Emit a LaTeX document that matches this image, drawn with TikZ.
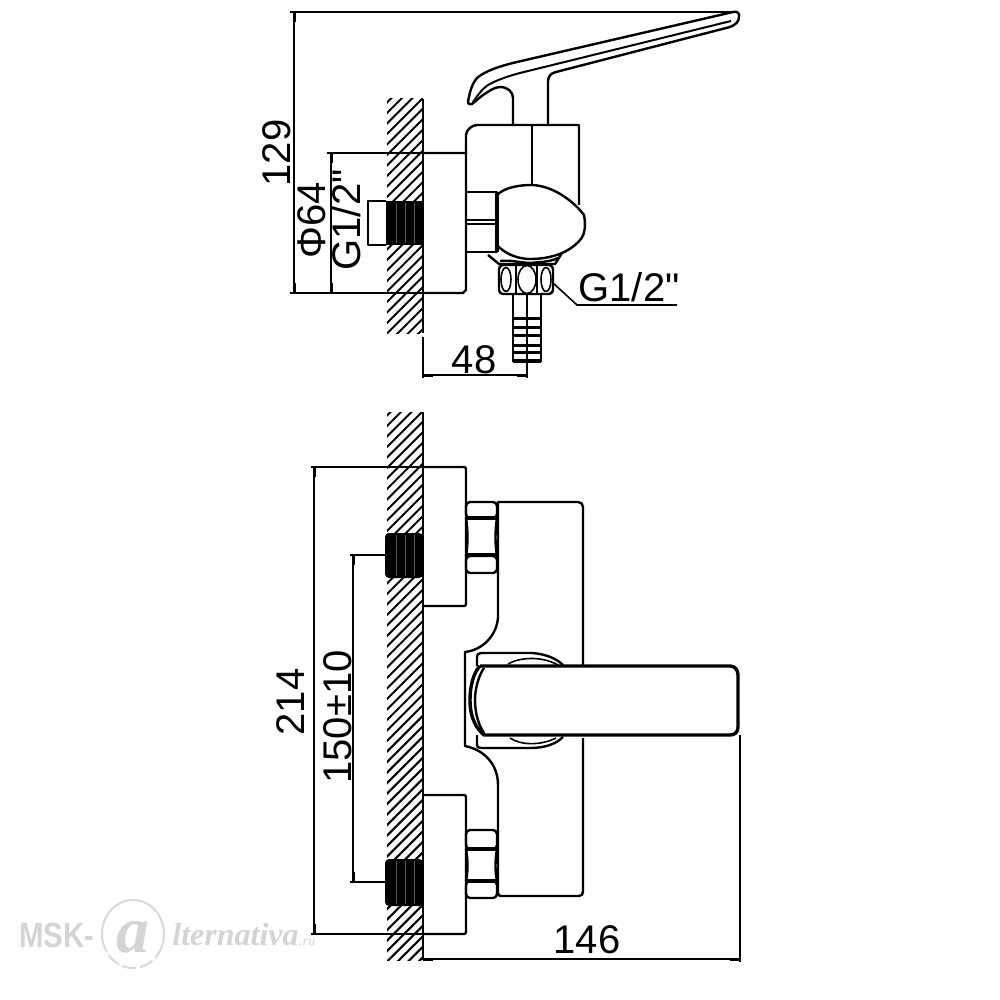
\documentclass[tikz,border=0pt]{standalone}
\usepackage{fontspec}
\setmainfont{Liberation Sans}
\newfontfamily\dimfont{Liberation Sans}
\newfontfamily\wmserif{Liberation Serif}
\begin{document}
\begin{tikzpicture}[x=0.5pt,y=-0.5pt,
  part/.style={line width=1.2pt,line join=round,black},
  thin part/.style={line width=0.8pt,line join=round,black},
  dim/.style={line width=0.8pt,black},
  hatchline/.style={line width=1.05pt,black},
  dimtext/.style={font=\dimfont\fontsize{20}{20}\selectfont,inner sep=0pt,text=black},
  wm/.style={inner sep=0pt,text=black!17}]
\useasboundingbox (0,0) rectangle (1000,1000);
\fill[white] (0,0) rectangle (1000,1000);
% wall hatching
\begin{scope}
\clip (387,99) rectangle (423,333);
\foreach \k in {0,10.5,...,280} \draw[hatchline] (380,99+\k) -- (430,99+\k-50);
\end{scope}
\begin{scope}
\clip (387,412) rectangle (423,960);
\foreach \k in {0,10.5,...,600} \draw[hatchline] (380,412+\k) -- (430,412+\k-50);
\end{scope}
\draw[part] (423,99) -- (423,333);
\draw[part] (423,412) -- (423,960);
% threads
\fill[black] (386,201) rectangle (423,245);
\fill[black,rounded corners=2pt] (385,533) rectangle (423,578);
\fill[black,rounded corners=2pt] (385,859) rectangle (423,906);
\foreach \x in {396,405,414}{
  \draw[black!65,line width=0.3pt] (\x,203) -- (\x,243);
  \draw[black!65,line width=0.3pt] (\x,535) -- (\x,576);
  \draw[black!65,line width=0.3pt] (\x,861) -- (\x,904);
}
% TOP VIEW
\draw[part] (386,201) -- (368,201) -- (368,245) -- (386,245);
\draw[part] (466,153) -- (423,153) (423,293) -- (463,293) -- (466,290) -- (466,255);
\draw[part] (466,255) -- (466,135) .. controls (466,130) and (472,125) .. (477,125) -- (579,125) -- (579,205);
\draw[part] (532,125) -- (532,185);
% nut
\draw[part] (466,192) -- (497,192) -- (497,252) -- (466,252);
\draw[part] (466,220) -- (497,220) (466,224) -- (497,224);
\draw[line width=1.7pt] (497,192) -- (497,252);
% dome
\draw[part] (497,195) .. controls (505,187) and (520,185) .. (532,185)
  .. controls (555,186) and (575,203) .. (584,215)
  .. controls (586,225) and (585,235) .. (580,240)
  .. controls (570,252) and (552,259) .. (530,259)
  .. controls (518,259) and (505,254) .. (497,245);
% collar
\draw[part] (488,255) -- (499,264) -- (555,264) -- (562,253);
\draw[part] (500,261) .. controls (512,260) and (515,262) .. (530,263) .. controls (540,262) and (550,262) .. (558,258);
% lower nut
\draw[part,rounded corners=2pt] (499,265) rectangle (553,294);
\draw[thin part] (516,265) -- (516,294) (537,265) -- (537,294);
\draw[thin part] (506,279.5) ellipse [x radius=5,y radius=12];
\draw[thin part] (527,279.5) ellipse [x radius=9,y radius=14];
\draw[thin part] (546,279.5) ellipse [x radius=5,y radius=12];
% stem
\draw[part] (513,294) -- (513,362) (541,294) -- (541,362) (527,294) -- (527,362);
\foreach \y in {318,327,335,345,352} \draw[line width=1.5pt] (513,\y) -- (541,\y);
\draw[line width=2pt] (513,361) -- (541,361);
% handle
\draw[part] (513,125) -- (513,98) .. controls (513,92) and (508,87) .. (500,87)
  .. controls (494,87) and (488,92) .. (483,95) -- (472,104) .. controls (469,105) and (467,103) .. (468,101)
  .. controls (470,93) and (471,85) .. (477,78) .. controls (485,71) and (500,66) .. (517,62)
  -- (733,12) .. controls (737,11) and (740,13) .. (739,17) .. controls (739,22) and (735,25) .. (730,27)
  -- (556,72) .. controls (551,73) and (548,76) .. (548,82) -- (548,125);
\draw[thin part,line width=1pt] (473,102) .. controls (478,95) and (482,89) .. (488,85)
  .. controls (495,81) and (505,77) .. (520,73) -- (731,21);
% TOP VIEW dimensions
\draw[dim] (290,12) -- (735,12);
\draw[dim] (294,12) -- (294,293);
\draw[dim] (331,153) -- (331,293);
\draw[dim] (327,153) -- (423,153);
\draw[dim] (290,293) -- (423,293);
\draw[line width=1.5pt] (294,12) -- (294,22) (294,283) -- (294,293) (331,153) -- (331,163) (331,283) -- (331,293);
\draw[dim] (423,337) -- (423,378) (527,362) -- (527,378);
\draw[dim] (423,375) -- (527,375);
\draw[line width=1.5pt] (423,375) -- (433,375) (517,375) -- (527,375);
\draw[dim] (553,283) -- (577,305) -- (677,305);
% FRONT VIEW flanges
\draw[part,rounded corners=1pt] (423,467) -- (466,467) -- (466,606) -- (423,606);
\draw[part,rounded corners=1pt] (423,795) -- (466,795) -- (466,934) -- (423,934);
% upper nut
\draw[part,rounded corners=2pt] (466,502) rectangle (497,518);
\draw[part,rounded corners=2pt] (466,556) rectangle (497,573);
\draw[part] (466,518) .. controls (468,530) and (468,545) .. (466,556) (497,518) .. controls (495,530) and (495,545) .. (497,556);
\draw[line width=1.7pt] (466,518) -- (497,518) (466,555) -- (497,555);
% lower nut
\draw[part,rounded corners=2pt] (466,830) rectangle (497,849);
\draw[part,rounded corners=2pt] (466,881) rectangle (497,898);
\draw[part] (466,849) .. controls (468,860) and (468,872) .. (466,881) (497,849) .. controls (495,860) and (495,872) .. (497,881);
\draw[line width=1.7pt] (466,849) -- (497,849) (466,881) -- (497,881);
% body
\draw[part] (583,665) -- (583,507) .. controls (583,504) and (581,502) .. (578,502) -- (498,502)
  -- (498,617) .. controls (497,635) and (483,650) .. (465,652) -- (465,746)
  .. controls (485,750) and (498,765) .. (498,785) -- (498,893)
  .. controls (498,895) and (499,896) .. (501,896) -- (579,896) .. controls (582,896) and (583,894) .. (583,891) -- (583,738);
% collars
\draw[part] (477,666) -- (477,657) .. controls (477,655) and (478,653) .. (481,653) -- (532,653)
  .. controls (545,654) and (556,658) .. (563,665);
\draw[part] (477,735) -- (477,745) .. controls (477,747) and (478,748) .. (481,748) -- (530,748)
  .. controls (545,748) and (556,744) .. (563,737);
\draw[thin part] (508,664) .. controls (518,658) and (540,655) .. (558,665);
\draw[thin part] (510,738) .. controls (520,745) and (540,746) .. (556,738);
% handle
\draw[line width=1.7pt,line join=round] (480,666) -- (730,666) .. controls (735,666) and (738,670) .. (738,675)
  -- (738,727) .. controls (738,732) and (735,735) .. (730,735) -- (484,735)
  .. controls (478,730) and (470,720) .. (470,700) .. controls (470,685) and (474,672) .. (480,666);
\draw[part] (484,668) .. controls (479,675) and (475,688) .. (475,700) .. controls (475,714) and (479,726) .. (484,733);
% FRONT VIEW dimensions
\draw[dim] (311,467) -- (423,467);
\draw[dim] (311,934) -- (423,934);
\draw[dim] (314,467) -- (314,934);
\draw[line width=1.5pt] (314,467) -- (314,477) (314,924) -- (314,934);
\draw[dim] (350,555) -- (385,555);
\draw[dim] (350,882) -- (385,882);
\draw[dim] (353,555) -- (353,882);
\draw[line width=1.5pt] (353,555) -- (353,565) (353,872) -- (353,882);
\draw[dim] (423,959) -- (740,959);
\draw[dim] (740,735) -- (740,962);
\draw[line width=1.5pt] (423,959) -- (433,959) (730,959) -- (740,959);
% texts
\node[dimtext,rotate=90] (t129) at (277,153) {129};
\node[dimtext,rotate=90] (tphi) at (312,220) {Φ64};
\node[dimtext,rotate=90] (tgv) at (346,220) {G1/2"};
\node[dimtext] (tgh) at (629,287) {G1/2"};
\node[dimtext] (t48) at (474,360) {48};
\node[dimtext,rotate=90] (t214) at (291,702) {214};
\node[dimtext,rotate=90] (t150) at (338,717) {150±10};
\node[dimtext] (t146) at (587,940) {146};
% watermark
\node[wm,xscale=0.84,font=\fontsize{17.5}{17.5}\selectfont\bfseries] (wma) at (57,935) {MSK-};
\draw[black!15,line width=1pt] (133,934) ++(170:31 and 34) arc [start angle=170,end angle=380,x radius=31,y radius=34];
\draw[black!15,line width=1pt,dash pattern=on 7pt off 2pt] (133,934) ++(20:31 and 34) arc [start angle=20,end angle=170,x radius=31,y radius=34];
\node[wm,font=\wmserif\itshape\bfseries\fontsize{33}{33}\selectfont] (wmb) at (133,937) {a};
\node[wm,font=\wmserif\itshape\bfseries\fontsize{16}{16}\selectfont,anchor=base west] (wmc) at (172,945) {lternativa};
\node[wm,font=\wmserif\itshape\fontsize{7}{7}\selectfont,anchor=base west] (wmd) at (299,945) {.ru};
\end{tikzpicture}
\end{document}
